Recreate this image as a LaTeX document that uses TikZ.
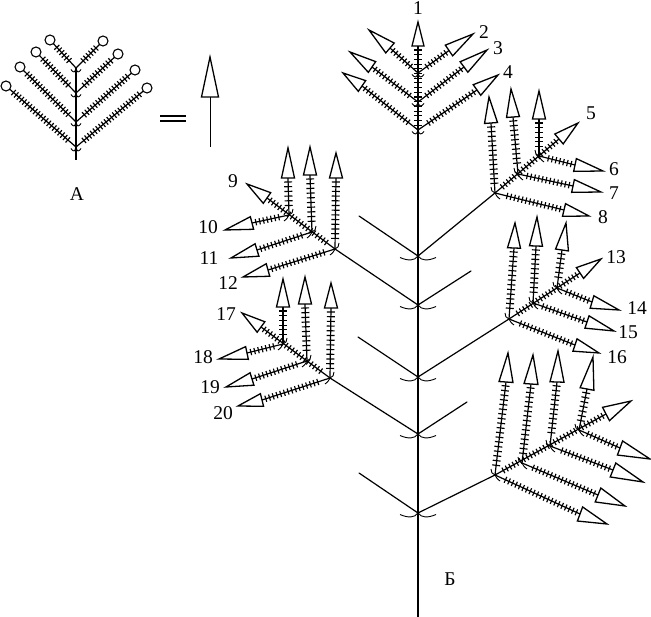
\documentclass[tikz,border=0pt]{standalone}
\usepackage{fontspec}
\setmainfont{Liberation Serif}
\usetikzlibrary{calc}
\tikzset{
  thinline/.style={line width=1.2pt,line cap=round},
  stemline/.style={line width=2.5pt},
  tickline/.style={line width=1.15pt},
  headshape/.style={draw,fill=white,line width=1.3pt,line join=miter},
  lab/.style={inner sep=0pt,font=\fontsize{19.5}{20}\selectfont},
  crescent/.style={line width=0.9pt}
}
\newcommand\tickrow[8]{%
  \pgfmathsetmacro\rL{veclen(#3-#1,#4-#2)}%
  \pgfmathsetmacro\rU{(#3-#1)/\rL}%
  \pgfmathsetmacro\rV{(#4-#2)/\rL}%
  \pgfmathtruncatemacro\rN{(\rL-#5-#6)/#8}%
  \foreach \ri in {0,...,\rN}{%
    \pgfmathsetmacro\rD{#5+\ri*#8}%
    \pgfmathsetmacro\rX{#1+\rU*\rD}%
    \pgfmathsetmacro\rY{#2+\rV*\rD}%
    \draw[tickline] (\rX-\rV*#7,\rY+\rU*#7) -- (\rX+\rV*#7,\rY-\rU*#7);
  }%
}
\newcommand\headat[5]{%
  \coordinate (hb) at (#1,#2);
  \coordinate (ht) at (#3,#4);
  \draw[headshape] ($(hb)!#5pt!90:(ht)$) -- (ht) -- ($(hb)!#5pt!-90:(ht)$) -- cycle;
}
% diagonal / side branch
\newcommand\spk[7][6.5]{%
  \draw[thinline] (#2,#3) -- (#4,#5);
  \tickrow{#4}{#5}{#2}{#3}{4}{9}{3.2}{3.9}
  \headat{#4}{#5}{#6}{#7}{#1}
}
% upright branch: longer, sparser ticks
\newcommand\spu[7][6.5]{%
  \draw[thinline] (#2,#3) -- (#4,#5);
  \tickrow{#4}{#5}{#2}{#3}{4}{9}{4}{4.7}
  \headat{#4}{#5}{#6}{#7}{#1}
}
\newcommand\spc[4]{%
  \draw[thinline] (#1,#2) -- (#3,#4);
  \tickrow{#3}{#4}{#1}{#2}{10}{9}{3.4}{3.6}
  \draw[fill=white,line width=1.1pt] (#3,#4) circle (5);
}
\newcommand\narc[3]{%
  \draw[crescent] (#1-#3,#2+1.5) .. controls (#1-#3*.55,#2+5) and (#1-#3*.2,#2+5) .. (#1,#2);
  \draw[crescent] (#1+#3,#2+1.5) .. controls (#1+#3*.55,#2+5) and (#1+#3*.2,#2+5) .. (#1,#2);
}
\newcommand\crs[3]{%
  \draw[crescent] (#1,#2) .. controls (#1-#3*3,#2-1) and (#1-#3*4,#2-3) .. (#1-#3*4,#2-6);
  \draw[crescent] (#1,#2) .. controls (#1+#3*1,#2+2) and (#1+#3*2,#2+4) .. (#1+#3*5,#2+6);
}
\begin{document}
\begin{tikzpicture}[x=1pt,y=-1pt]
\useasboundingbox[fill=white] (0,0) rectangle (651,617);
% ---------- inset A ----------
\draw[line width=2.2pt] (76,68) -- (76,160);
\spc{76}{68}{50}{40}\spc{76}{68}{103}{41}
\spc{76}{93}{36}{52}\spc{76}{93}{118}{54}
\spc{76}{122}{20}{67}\spc{76}{122}{135}{70}
\spc{76}{147}{6}{86}\spc{76}{147}{147}{88}
\narc{76}{68}{5}\narc{76}{93}{5}\narc{76}{122}{5}\narc{76}{147}{5}
\node[lab] (labA) at (77,194) {А};
\coordinate (eqa) at (160,116); \coordinate (eqb) at (186,116);
\coordinate (eqc) at (160,121); \coordinate (eqd) at (186,121);
\draw[line width=1.3pt] (eqa) -- (eqb);
\draw[line width=1.3pt] (eqc) -- (eqd);
\draw[line width=1pt] (210,147) -- (210,97);
\headat{210}{97}{210}{57}{8.5}
% ---------- main stem ----------
\coordinate (st0) at (418,46);
\coordinate (s1) at (418,256);
\coordinate (s2) at (418,305);
\coordinate (s3) at (418,377);
\coordinate (s4) at (418,434);
\coordinate (s5) at (418,513);
\coordinate (se) at (418,617);
\draw[stemline] (st0) -- (se);
\tickrow{418}{46}{418}{130}{4}{2}{3.8}{4.7}
\headat{418}{46}{418}{22}{6}
\spk{418}{73}{449}{50.5}{473}{34}
\spk{418}{102}{464}{67}{487}{50}
\spk{418}{130}{477}{90}{498}{75}
\spk{418}{73}{390}{48}{369}{30}
\spk{418}{102}{372}{67}{350}{52}
\spk{418}{130}{362}{86}{343}{73}
\narc{418}{73}{6}\narc{418}{102}{6}\narc{418}{130}{6}
\coordinate (f1) at (359,216);
\coordinate (f2) at (471,271);
\coordinate (f3) at (358,337);
\coordinate (f4) at (467,402);
\coordinate (f5) at (359,473);
\coordinate (c1) at (495,193);
\coordinate (c2) at (335,249);
\coordinate (c3) at (509,319);
\coordinate (c4) at (330,378);
\coordinate (c5) at (495,475);
\draw[thinline] (f1) -- (s1) -- (c1);
\draw[thinline] (c2) -- (s2) -- (f2);
\draw[thinline] (f3) -- (s3) -- (c3);
\draw[thinline] (c4) -- (s4) -- (f4);
\draw[thinline] (f5) -- (s5) -- (c5);
\narc{418}{256}{18}\narc{418}{305}{18}\narc{418}{377}{18}\narc{418}{434}{18}\narc{418}{513}{18}
% ---------- cluster 5-8 ----------
\spk{495}{193}{559}{139}{578}{123}
\spu{495}{193}{491}{123}{489}{97}
\spu{518}{174}{513}{117}{511}{89}
\spu{539}{156}{539}{119}{539}{91}
\spk{539}{156}{575}{165}{603}{171}
\spk{518}{174}{573}{186}{601}{192}
\spk{495}{193}{564}{210}{589}{216}
\crs{495}{193}{1}\crs{518}{174}{1}\crs{539}{156}{1}
% ---------- cluster 13-16 ----------
\spk{509}{319}{580}{273}{601}{259}
\spu{509}{319}{514}{248}{515}{223}
\spu{533}{303}{536}{246}{537}{217}
\spu{557}{288}{562}{250}{566}{223}
\spk{557}{288}{592}{302}{619}{310}
\spk{533}{303}{587}{322}{614}{331}
\spk{509}{319}{575}{345}{599}{353}
\crs{509}{319}{1}\crs{533}{303}{1}\crs{557}{288}{1}
% ---------- lower right cluster ----------
\spk[7.5]{495}{475}{606}{414}{631}{401}
\spu[7]{495}{475}{506}{382}{508}{353}
\spu[7]{522}{463}{531}{384}{533}{355}
\spu[7]{550}{446}{557}{382}{558}{351}
\spu[7]{579}{430}{587}{389}{593}{357}
\spk[7.5]{579}{430}{620}{448}{650}{459}
\spk[7.5]{550}{446}{613}{470}{643}{482}
\spk[7.5]{522}{463}{598}{495}{625}{506}
\spk[7.5]{495}{475}{580}{514}{607}{524}
\crs{495}{475}{1}\crs{522}{463}{1}\crs{550}{446}{1}\crs{579}{430}{1}
% ---------- cluster 9-12 ----------
\spk{335}{249}{267}{198}{247}{184}
\spu{289}{215}{288}{178}{288}{148}
\spu{312}{232}{310}{175}{310}{147}
\spu{335}{249}{336}{178}{336}{153}
\spk{289}{215}{252}{223}{225}{230}
\spk{312}{232}{257}{250}{231}{258}
\spk{335}{249}{268}{270}{243}{277}
\crs{335}{249}{-1}\crs{312}{232}{-1}\crs{289}{215}{-1}
% ---------- cluster 17-20 ----------
\spk{330}{378}{261}{327}{242}{313}
\spu{283}{344}{283}{307}{283}{279}
\spu{307}{361}{305}{304}{305}{277}
\spu{330}{378}{331}{308}{331}{283}
\spk{283}{344}{247}{353}{219}{359}
\spk{307}{361}{252}{379}{226}{387}
\spk{330}{378}{262}{400}{238}{406}
\crs{330}{378}{-1}\crs{307}{361}{-1}\crs{283}{344}{-1}
% ---------- labels ----------
\node[lab] (l1) at (418,8) {1};
\node[lab] (l2) at (484,32) {2};
\node[lab] (l3) at (498,48) {3};
\node[lab] (l4) at (508,72) {4};
\node[lab] (l5) at (591,113) {5};
\node[lab] (l6) at (614,169) {6};
\node[lab] (l7) at (614,193) {7};
\node[lab] (l8) at (603,217) {8};
\node[lab] (l9) at (233,181) {9};
\node[lab] (l10) at (208,227) {10};
\node[lab] (l11) at (209,258) {11};
\node[lab] (l12) at (228,283) {12};
\node[lab] (l13) at (616,257) {13};
\node[lab] (l14) at (637,308) {14};
\node[lab] (l15) at (628,332) {15};
\node[lab] (l16) at (617,357) {16};
\node[lab] (l17) at (226,314) {17};
\node[lab] (l18) at (203,357) {18};
\node[lab] (l19) at (210,387) {19};
\node[lab] (l20) at (223,413) {20};
\node[lab] (labB) at (450,579) {Б};
\end{tikzpicture}
\end{document}
